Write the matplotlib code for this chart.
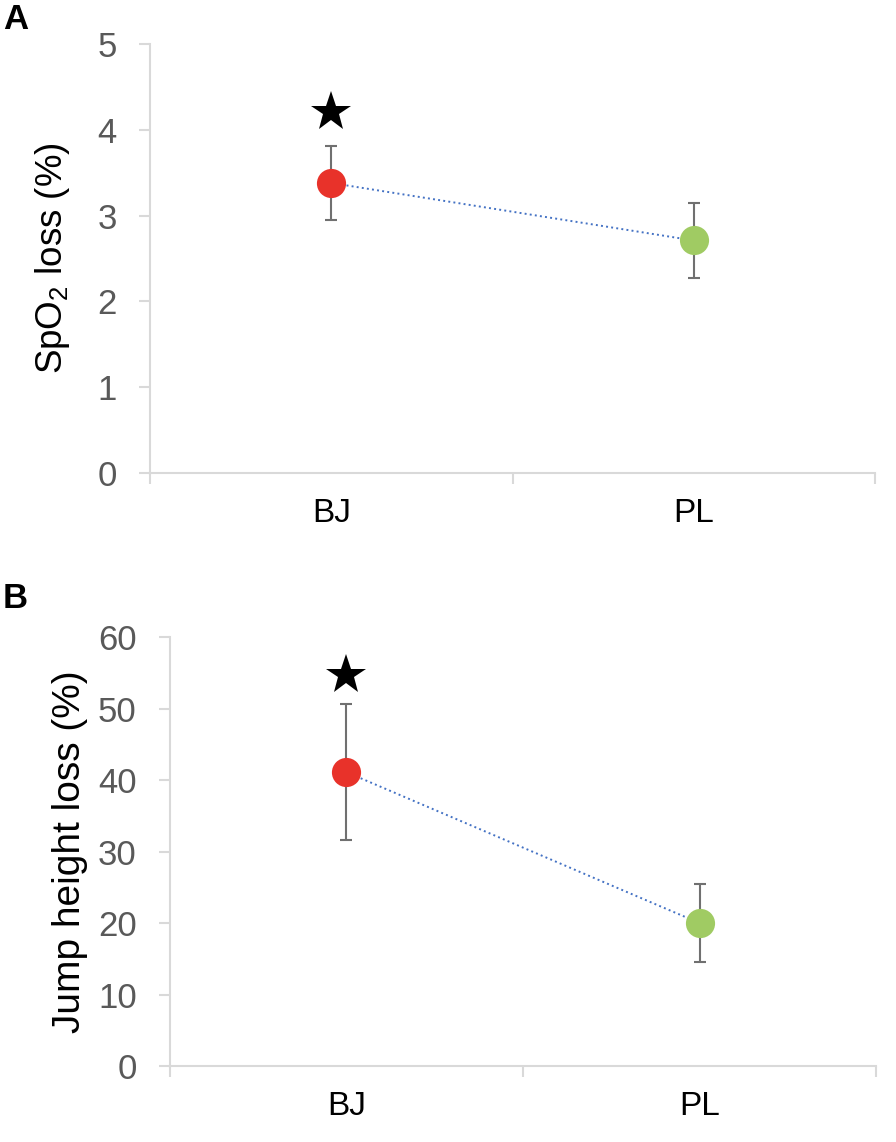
import numpy as np
import matplotlib
matplotlib.use("Agg")
import matplotlib.pyplot as plt

plt.rcParams['font.family'] = ['Liberation Sans', 'DejaVu Sans']
plt.rcParams['mathtext.default'] = 'regular'

# data
groups = ['BJ', 'PL']
spo2_mean = [3.38, 2.71]
spo2_err = [0.43, 0.44]
jump_mean = [41.1, 20.0]
jump_err = [9.5, 5.5]
point_colors = ['#e8322a', '#a0cb63']
star_a = 4.21
star_b = 54.7

axis_grey = '#d9d9d9'
label_grey = '#595959'

fig = plt.figure(figsize=(8.96, 11.42), dpi=100)
ax_a = fig.add_axes([0.1674, 0.5858, 0.8092, 0.3757])
ax_b = fig.add_axes([0.1897, 0.0665, 0.7880, 0.3757])

def draw_panel(ax, means, errs, star_y, ylim, yticks, ylabel, lsize, lpad):
    x = np.arange(len(groups)) + 0.5
    ax.plot(x, means, linestyle=':', color='#4472c4', linewidth=1.4, zorder=2)
    ax.errorbar(x, means, yerr=errs, fmt='none', ecolor='#707070',
                elinewidth=1.5, capsize=4.5, capthick=1.5, zorder=1)
    for xi, m, c in zip(x, means, point_colors):
        ax.plot(xi, m, 'o', markersize=21, color=c, markeredgewidth=0, zorder=3)
    ax.plot(x[0], star_y, marker='*', markersize=30, color='black',
            markeredgewidth=0, zorder=3)

    ax.set_xlim(0, 2)
    ax.set_ylim(*ylim)
    ax.set_yticks(yticks)
    ax.set_xticks([0, 1, 2])
    ax.set_xticklabels([])
    ax.set_xticks(x, minor=True)
    ax.set_xticklabels(groups, minor=True)
    ax.tick_params(axis='x', which='major', length=8, width=1.5, color=axis_grey)
    ax.tick_params(axis='x', which='minor', length=0, pad=18, labelsize=24,
                   labelcolor='black')
    ax.tick_params(axis='y', length=8, width=1.5, color=axis_grey, pad=16,
                   labelsize=25, labelcolor=label_grey)
    for s in ['top', 'right']:
        ax.spines[s].set_visible(False)
    for s in ['left', 'bottom']:
        ax.spines[s].set_color(axis_grey)
        ax.spines[s].set_linewidth(1.5)
    ax.set_ylabel(ylabel, fontsize=lsize, color='black', labelpad=lpad)

draw_panel(ax_a, spo2_mean, spo2_err, star_a, (0, 5), range(0, 6),
           r'SpO$_2$ loss (%)', 26.5, 18)
draw_panel(ax_b, jump_mean, jump_err, star_b, (0, 60), range(0, 70, 10),
           'Jump height loss (%)', 28, 7)

fig.text(0.003, 0.983, 'A', fontsize=25, fontweight='bold', va='center')
fig.text(0.003, 0.476, 'B', fontsize=25, fontweight='bold', va='center')

fig.savefig('out.png', dpi=100, facecolor='white')
